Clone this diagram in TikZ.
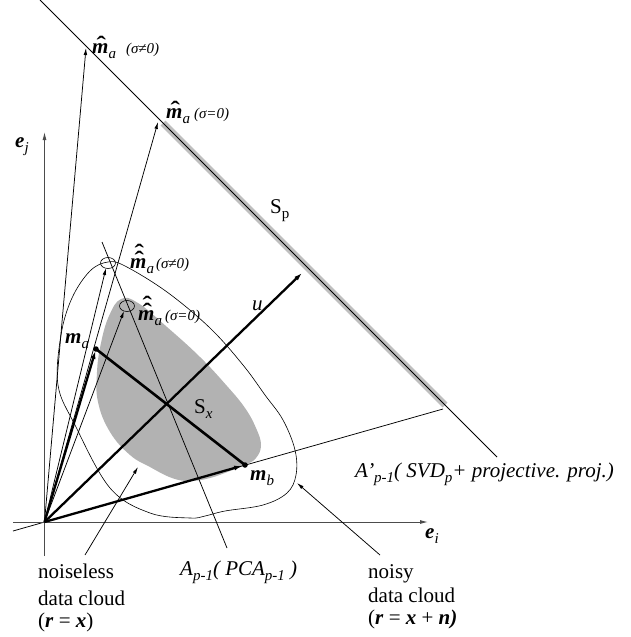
\documentclass[tikz,border=0pt]{standalone}
\usepackage{fontspec}
\setmainfont{Liberation Serif}
\usetikzlibrary{arrows.meta}
\newcommand{\vb}[1]{\textbf{\textit{#1}}}
\newcommand{\lo}[1]{\raisebox{-0.55ex}{\fontsize{15}{15}\selectfont\itshape #1}}
\newcommand{\lou}[1]{\raisebox{-0.55ex}{\fontsize{15}{15}\selectfont #1}}
\newcommand{\hatglyph}{\scalebox{1.35}[1.1]{\bfseries ˆ}}
\newcommand{\hm}{\vbox{\offinterlineskip\halign{\hfil##\hfil\cr\hspace{2pt}\hatglyph\cr\noalign{\kern-9pt}\vb{m}\cr}}}
\newcommand{\hhm}{\vbox{\offinterlineskip\halign{\hfil##\hfil\cr\hspace{2pt}\hatglyph\cr\noalign{\kern-9.8pt}\hspace{2pt}\hatglyph\cr\noalign{\kern-9pt}\vb{m}\cr}}}
\newcommand{\sig}[1]{{\fontsize{15}{15}\selectfont\itshape (σ#1)}}
\tikzset{
  lbl/.style={anchor=base west, inner sep=0pt, font=\fontsize{21}{24}\selectfont},
  thinline/.style={line width=0.75pt},
  thinarrow/.style={line width=0.75pt, -{Latex[length=7pt,width=3.6pt]}},
  thickarrow/.style={line width=2.3pt, -{Latex[length=8pt,width=5pt]}},
  axisarrow/.style={line width=0.9pt, black!70, -{Latex[length=8pt,width=4pt]}},
  dotm/.style={circle, fill=black, inner sep=0pt, minimum size=5.5pt},
}
\begin{document}
\begin{tikzpicture}[x=1pt, y=-1pt]
\useasboundingbox (0,0) rectangle (630,637);
% coordinates
\coordinate (O) at (44.5,522);
\coordinate (eiStart) at (13,522);
\coordinate (eiEnd) at (428,522);
\coordinate (ejStart) at (44.5,556);
\coordinate (ejEnd) at (44.5,132);
\coordinate (L0) at (13,531);
\coordinate (L1) at (443,409);
\coordinate (Sp0) at (40,0);
\coordinate (Sp1) at (497,457);
\coordinate (B0) at (163,123);
\coordinate (B1) at (445,405);
\coordinate (H1) at (86,48);
\coordinate (H2) at (158,122);
\coordinate (C1) at (108,263);
\coordinate (C2) at (127,306);
\coordinate (T1) at (106,268);
\coordinate (T2) at (124,311);
\coordinate (ma) at (96,349);
\coordinate (mb) at (245,465);
\coordinate (utip) at (302,273);
\coordinate (A0) at (102,242);
\coordinate (A1) at (227,548);
\coordinate (P1s) at (85,555);
\coordinate (P1e) at (138,467);
\coordinate (P2s) at (380,555);
\coordinate (P2e) at (297,483);

% shaded noiseless cloud S_x
\fill[gray!60] plot[smooth cycle, tension=0.7] coordinates {(121,299) (138,303) (167,327) (200,357) (227,386) (245,408) (256,428) (261,445) (256,458) (245,465) (230,471) (210,478) (190,481) (172,478) (150,467) (130,455) (110,432) (98,402) (97,372) (101,343) (109,316)};
% noisy cloud outline
\draw[line width=0.6pt] plot[smooth cycle, tension=0.6] coordinates {(108,262) (125,266) (167,292) (210,328) (243,365) (265,395) (283,420) (295,450) (296,475) (287,493) (263,505) (225,511) (205,516) (190,518) (150,513) (110,488) (75,425) (58,385) (61,335) (72,298) (90,271)};

% gray band on S_p
\draw[gray!50, line width=7pt] (B0) -- (B1);
% S_p line
\draw[thinline] (Sp0) -- (Sp1);
% lower line
\draw[thinline] (L0) -- (L1);
% axes
\draw[axisarrow] (eiStart) -- (eiEnd);
\draw[axisarrow] (ejStart) -- (ejEnd);
% A_{p-1} line
\draw[thinline] (A0) -- (A1);

% thin arrows
\draw[thinarrow] (O) -- (H1);
\draw[thinarrow] (O) -- (H2);
\draw[thinarrow] (O) -- (T1);
\draw[thinarrow] (O) -- (T2);
% small ellipses
\draw[line width=0.6pt] (C1) ellipse [x radius=7.5pt, y radius=5.5pt];
\draw[line width=0.6pt] (C2) ellipse [x radius=7.5pt, y radius=5.5pt];

% thick lines
\draw[line width=2.6pt] (ma) -- (mb);
\draw[thickarrow, shorten >=2pt] (O) -- (ma);
\draw[thickarrow, shorten >=3pt] (O) -- (mb);
\draw[thickarrow] (O) -- (utip);
\node[dotm] (dma) at (ma) {};
\node[dotm] (dmb) at (mb) {};

% pointer arrows
\draw[thinarrow] (P1s) -- (P1e);
\draw[thinarrow] (P2s) -- (P2e);

% labels
\node[lbl] (lhma1) at (92,53) {\hm\lo{a}\hspace{10pt}\sig{≠0}};
\node[lbl] (lhma2) at (166,118) {\hm\lo{a}\hspace{4pt}\sig{=0}};
\node[lbl] (lhhma1) at (130,268) {\hhm\lo{a}\hspace{2pt}\sig{≠0}};
\node[lbl] (lhhma2) at (138,320) {\hhm\lo{a}\hspace{3pt}\sig{=0}};
\node[lbl] (lma) at (65,343) {\vb{m}\lo{a}};
\node[lbl] (lmb) at (250,480) {\vb{m}\lo{b}};
\node[lbl] (lSx) at (194,413) {S\lo{x}};
\node[lbl] (lSp) at (270,213) {S\lou{p}};
\node[lbl] (lu) at (252,310) {\textit{u}};
\node[lbl] (lej) at (15,147) {\vb{e}\lo{j}};
\node[lbl] (lei) at (425,538) {\vb{e}\lo{i}};
\node[lbl] (lApca) at (180,575) {\textit{A\lo{p-1}( PCA\lo{p-1} )}};
\node[lbl] (lAsvd) at (355,477) {\textit{A'\lo{p-1}( SVD\lo{p}+ projective. proj.)}};
\node[lbl] (n1) at (38,578) {noiseless};
\node[lbl] (n2) at (38,605) {data cloud};
\node[lbl] (n3) at (38,627) {(\vb{r} = \vb{x})};
\node[lbl] (y1) at (368,578) {noisy};
\node[lbl] (y2) at (368,602) {data cloud};
\node[lbl] (y3) at (368,624) {(\vb{r} = \vb{x} + \vb{n)}};
\end{tikzpicture}
\end{document}
